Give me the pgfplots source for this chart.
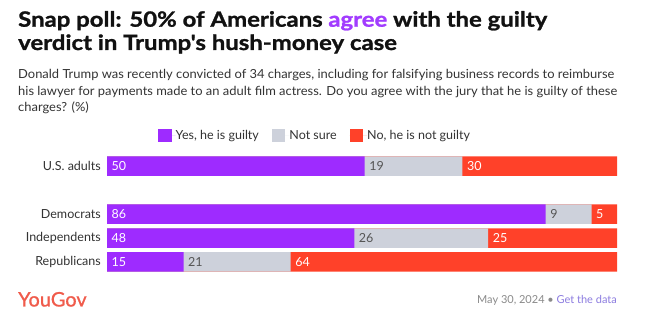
\documentclass[border=0pt]{standalone}
\usepackage{pgfplots}
\pgfplotsset{compat=1.18}
\usepackage{pgfplotstable}
\usepackage{fontspec}
\setmainfont{Lato}
\newfontfamily\titlefont{Lato}[FakeStretch=1.14, FakeBold=1.2]
\newfontfamily\logofont{Lato}[FakeBold=0.8]
\definecolor{cyes}{HTML}{9E2BFF}
\definecolor{cns}{HTML}{CDD1DB}
\definecolor{cno}{HTML}{FF4129}
\definecolor{ctitle}{HTML}{111111}
\definecolor{cbody}{HTML}{333333}
\definecolor{cyg}{HTML}{F05B4B}
\definecolor{cdate}{HTML}{8A8A8A}
\definecolor{clink}{HTML}{8C7CE0}
\definecolor{cagree}{HTML}{A23CFF}
\definecolor{cnum}{HTML}{555555}

\pgfplotstableread{
y yes ns no
4 50 19 30
2 86 9 5
1 48 26 25
0 15 21 64
}\poll

\pgfplotsset{sqlegend/.style={legend image code/.code={\fill[#1, draw=none] (0pt,-6.7pt) rectangle (13.4pt,6.7pt); \path[draw=none] (0pt,0pt) -- (17.5pt,0pt);}}}
\newcommand{\bodyline}[1]{\scalebox{1.034}[1]{#1}}

\begin{document}
\begin{tikzpicture}
\useasboundingbox (0,0) rectangle (648pt,332pt);
\fill[white] (0,0) rectangle (648pt,332pt);
\node[anchor=base west, inner sep=0pt, font=\fontsize{21}{24}\titlefont\bfseries, text=ctitle] at (18pt,305.3pt) {Snap poll: 50\% of Americans \textcolor{cagree}{agree} with the guilty};
\node[anchor=base west, inner sep=0pt, font=\fontsize{21}{24}\titlefont\bfseries, text=ctitle] at (18pt,282pt) {verdict in Trump's hush-money case};
\node[anchor=base west, inner sep=0pt, font=\fontsize{12.5}{15}\selectfont, text=cbody] at (18pt,253.7pt) {\bodyline{Donald Trump was recently convicted of 34 charges, including for falsifying business records to reimburse}};
\node[anchor=base west, inner sep=0pt, font=\fontsize{12.5}{15}\selectfont, text=cbody] at (18pt,236.8pt) {\bodyline{his lawyer for payments made to an adult film actress. Do you agree with the jury that he is guilty of these}};
\node[anchor=base west, inner sep=0pt, font=\fontsize{12.5}{15}\selectfont, text=cbody] at (18pt,220.1pt) {\bodyline{charges? (\%)}};
\node[anchor=base west, inner sep=0pt, font=\fontsize{20}{22}\logofont, text=cyg] at (18pt,25.5pt) {YouGov};
\node[anchor=base east, inner sep=0pt, font=\fontsize{11}{13}\selectfont, text=cdate] at (617pt,28pt) {May 30, 2024 \textbullet\ \textcolor{clink}{Get the data}};
\begin{axis}[
  at={(107pt,58pt)}, anchor=south west,
  width=510pt, height=120pt, scale only axis,
  xbar, bar shift=0pt, bar width=19.5pt,
  xmin=0, xmax=100, ymin=-0.5, ymax=4.5,
  axis line style={draw=none}, major tick length=0pt,
  xtick=\empty,
  ytick={0,1,2,4},
  yticklabels={Republicans,Independents,Democrats,U.S. adults},
  yticklabel style={font=\fontsize{12.5}{15}\selectfont, text=cbody, inner sep=0pt, xshift=-6pt},
  clip=false,
  /pgf/number format/assume math mode=true,
  legend style={at={(0.1,1.154)}, anchor=west, draw=none, fill=none, inner sep=0pt,
    font=\fontsize{12.5}{15}\selectfont, text=cbody,
    nodes={inner sep=0pt},
    /tikz/every even column/.append style={column sep=13pt}},
  legend columns=3,
  nodes near coords style={font=\fontsize{12.5}{15}\selectfont},
]
\addlegendimage{sqlegend, fill=cyes, draw=none}
\addlegendentry{Yes, he is guilty}
\addlegendimage{sqlegend, fill=cns, draw=none}
\addlegendentry{Not sure}
\addlegendimage{sqlegend, fill=cno, draw=none}
\addlegendentry{No, he is not guilty}
\addplot[fill=cno, draw=none, forget plot] table[y=y, x expr={(\thisrow{yes}+\thisrow{ns}+\thisrow{no})/(\thisrow{yes}+\thisrow{ns}+\thisrow{no})*100}] {\poll};
\addplot[fill=cns, draw=none, forget plot] table[y=y, x expr={(\thisrow{yes}+\thisrow{ns})/(\thisrow{yes}+\thisrow{ns}+\thisrow{no})*100}] {\poll};
\addplot[fill=cyes, draw=none, forget plot] table[y=y, x expr={\thisrow{yes}/(\thisrow{yes}+\thisrow{ns}+\thisrow{no})*100}] {\poll};
% value labels at segment starts
\addplot[draw=none, fill=none, forget plot, point meta=explicit, nodes near coords,
  every node near coord/.append style={anchor=west, xshift=4.5pt, text=white, inner sep=0pt}]
  table[y=y, x expr=0, meta=yes] {\poll};
\addplot[draw=none, fill=none, forget plot, point meta=explicit, nodes near coords,
  every node near coord/.append style={anchor=west, xshift=4.5pt, text=cnum, inner sep=0pt}]
  table[y=y, x expr={\thisrow{yes}/(\thisrow{yes}+\thisrow{ns}+\thisrow{no})*100}, meta=ns] {\poll};
\addplot[draw=none, fill=none, forget plot, point meta=explicit, nodes near coords,
  every node near coord/.append style={anchor=west, xshift=4.5pt, text=white, inner sep=0pt}]
  table[y=y, x expr={(\thisrow{yes}+\thisrow{ns})/(\thisrow{yes}+\thisrow{ns}+\thisrow{no})*100}, meta=no] {\poll};
\end{axis}
\end{tikzpicture}
\end{document}
